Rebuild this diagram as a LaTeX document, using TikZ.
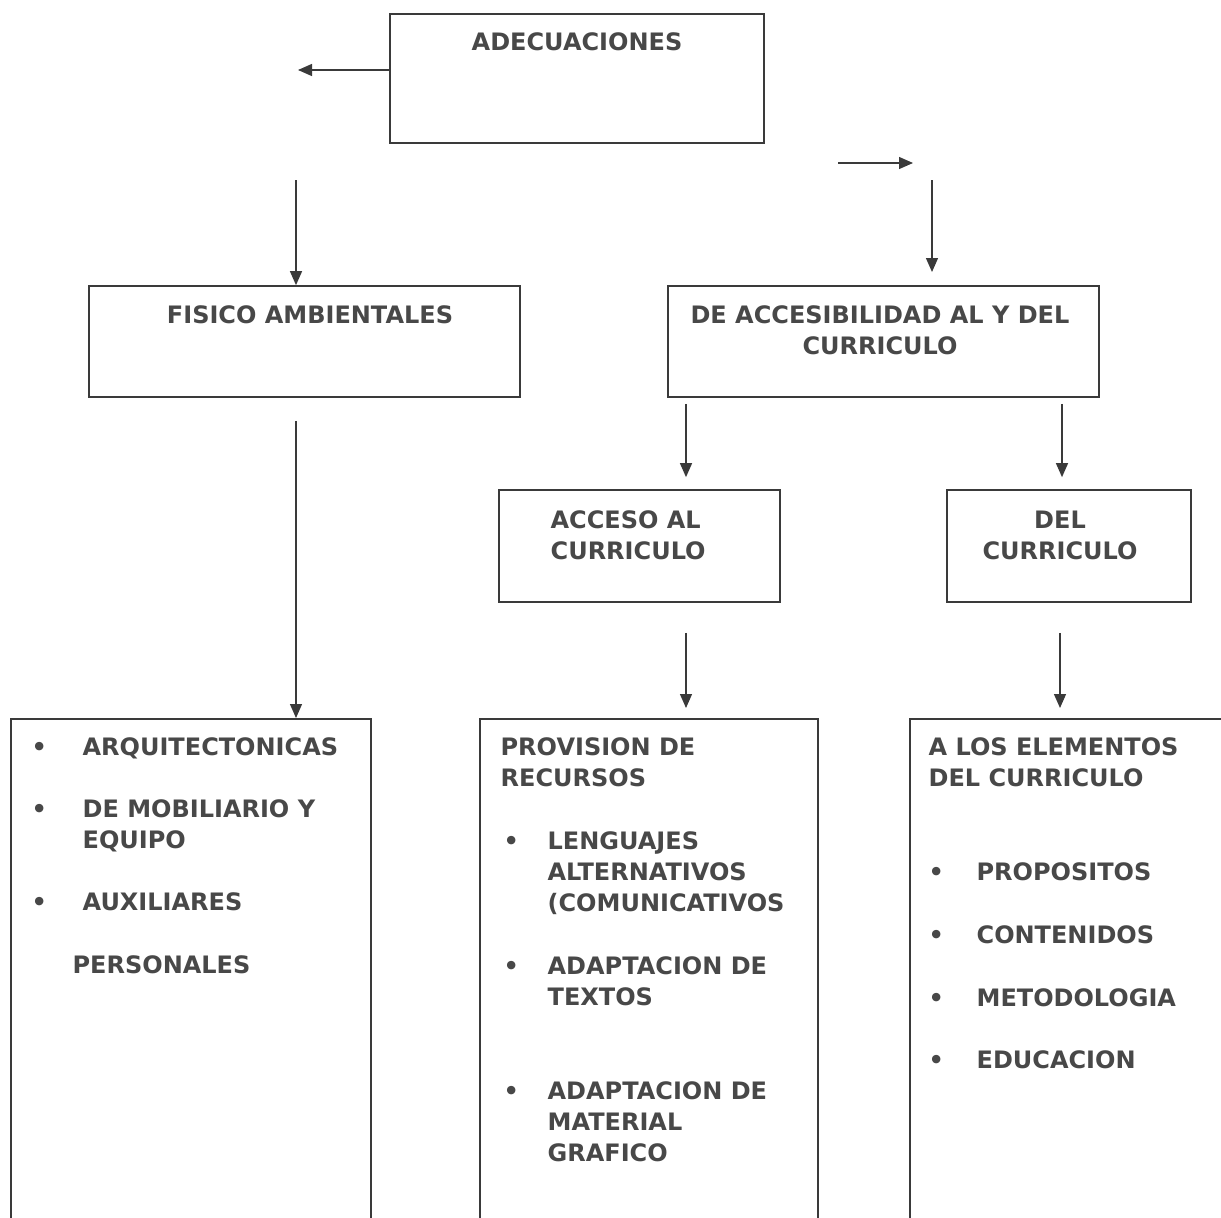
\documentclass[tikz,border=0pt]{standalone}
\usepackage{fontspec}
\setmainfont{DejaVu Sans}
\usetikzlibrary{arrows.meta}
\definecolor{linegray}{HTML}{3A3A3A}
\definecolor{textgray}{HTML}{484848}

\begin{document}
\begin{tikzpicture}[x=1pt,y=-1pt,->,>={Triangle[width=12pt,length=14pt]},line width=1.3pt,color=linegray,
    box/.style={draw,rectangle,inner sep=0pt,line width=1.7pt},
    lbl/.style={inner sep=0pt,text=textgray,font=\fontsize{24}{31}\selectfont\bfseries}]

    \clip (0,0) rectangle (1221,1218);

    % boxes
    \node[box,minimum width=374,minimum height=129] (adec) at (577,78.5) {};
    \node[box,minimum width=431,minimum height=111] (fis) at (304.5,341.5) {};
    \node[box,minimum width=431,minimum height=111] (acc) at (883.5,341.5) {};
    \node[box,minimum width=281,minimum height=112] (accs) at (639.5,546) {};
    \node[box,minimum width=244,minimum height=112] (delc) at (1069,546) {};
    \node[box,anchor=north west,minimum width=360,minimum height=560] (arq) at (10,718) {};
    \node[box,anchor=north west,minimum width=338,minimum height=560] (prov) at (479,718) {};
    \node[box,anchor=north west,minimum width=360,minimum height=560] (elem) at (909,718) {};

    % texts (cap top = baseline - 17.5)
    \node[lbl,anchor=base] (adect) at (577,50) {ADECUACIONES};
    \node[lbl,anchor=base] (fist) at (310,323) {FISICO AMBIENTALES};
    \node[lbl,anchor=north,align=center] (acct) at (880,305.5) {DE ACCESIBILIDAD AL Y DEL\\CURRICULO};
    \node[lbl,anchor=north west,align=left] (accst) at (550,510.5) {ACCESO AL\\CURRICULO};
    \node[lbl,anchor=north,align=center] (delct) at (1060,510.5) {DEL\\CURRICULO};

    \node[lbl,anchor=north west,align=left] (arqt) at (31,737.5) {%
        \makebox[51pt][l]{•}ARQUITECTONICAS\\[31pt]
        \makebox[51pt][l]{•}DE MOBILIARIO Y\\
        \hspace*{51pt}EQUIPO\\[31pt]
        \makebox[51pt][l]{•}AUXILIARES\\[32pt]
        \hspace*{41pt}PERSONALES};
    \node[lbl,anchor=north west,align=left] (provt) at (500,737.5) {%
        PROVISION DE\\
        RECURSOS\\[32pt]
        \hspace*{3pt}\makebox[44pt][l]{•}LENGUAJES\\
        \hspace*{47pt}ALTERNATIVOS\\
        \hspace*{47pt}(COMUNICATIVOS\\[32pt]
        \hspace*{3pt}\makebox[44pt][l]{•}ADAPTACION DE\\
        \hspace*{47pt}TEXTOS\\[63pt]
        \hspace*{3pt}\makebox[44pt][l]{•}ADAPTACION DE\\
        \hspace*{47pt}MATERIAL\\
        \hspace*{47pt}GRAFICO};
    \node[lbl,anchor=north west,align=left] (elemt) at (928,737.5) {%
        A LOS ELEMENTOS\\
        DEL CURRICULO\\[63pt]
        \makebox[48pt][l]{•}PROPOSITOS\\[32pt]
        \makebox[48pt][l]{•}CONTENIDOS\\[32pt]
        \makebox[48pt][l]{•}METODOLOGIA\\[31pt]
        \makebox[48pt][l]{•}EDUCACION};

    % connectors
    \coordinate (adecl) at (298,70);
    \coordinate (r1) at (838,163);
    \coordinate (r2) at (913,163);
    \coordinate (d1) at (932,180);
    \coordinate (d2) at (932,272);
    \coordinate (fisin) at (296,180);

    \draw (adec.west |- adecl) -- (adecl);
    \draw (r1) -- (r2);
    \draw (d1) -- (d2);
    \draw (fisin) -- (fisin |- fis.north);
    \draw[shorten <=23pt] (fis.south -| fisin) -- (fisin |- arq.north);
    \draw[shorten <=6pt,shorten >=12pt] (acc.south -| 686,0) -- (accs.north -| 686,0);
    \draw[shorten <=6pt,shorten >=12pt] (acc.south -| 1062,0) -- (delc.north -| 1062,0);
    \draw[shorten <=30pt,shorten >=10pt] (accs.south -| 686,0) -- (prov.north -| 686,0);
    \draw[shorten <=30pt,shorten >=10pt] (delc.south -| 1060,0) -- (elem.north -| 1060,0);
\end{tikzpicture}
\end{document}
